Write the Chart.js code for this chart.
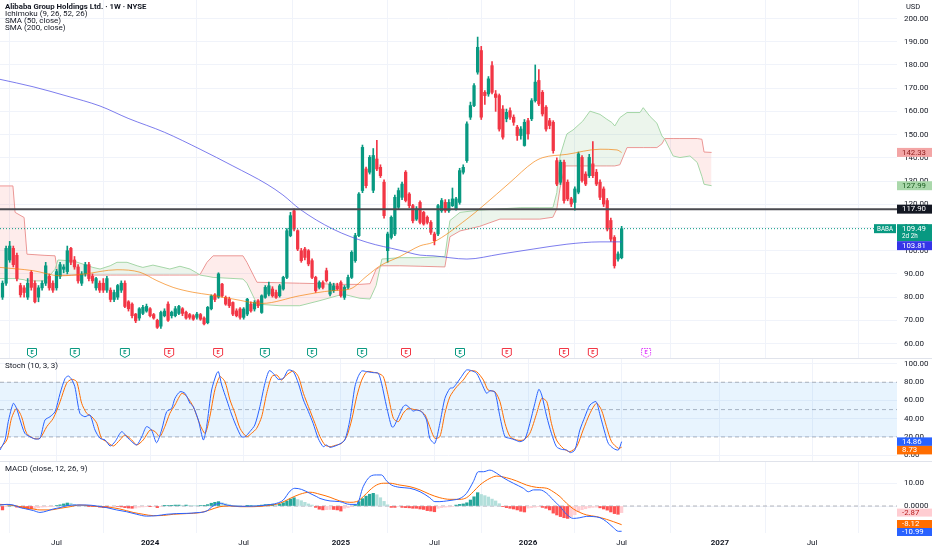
<!DOCTYPE html>
<html><head><meta charset="utf-8">
<script src="https://cdn.jsdelivr.net/npm/chart.js@4.4.1/dist/chart.umd.min.js"></script>
<style>
html,body{margin:0;padding:0;background:#fff;width:932px;height:550px;overflow:hidden;font-family:Roboto,"Noto Sans",sans-serif;}
canvas{position:absolute;left:0;z-index:1;}
.sep{position:absolute;left:0;width:932px;height:1px;background:#e0e3eb;z-index:2;}
.t{position:absolute;left:5px;font-size:8px;color:#131722;white-space:nowrap;line-height:8px;z-index:5;}
</style></head><body>
<canvas id="c1" width="932" height="358" style="top:0px"></canvas>
<canvas id="c2" width="932" height="104" style="top:358px"></canvas>
<canvas id="c3" width="932" height="88" style="top:462px"></canvas>
<div class="sep" style="top:358px"></div>
<div class="sep" style="top:461px"></div>
<div class="t" style="top:2.5px;font-weight:bold;font-size:7.8px">Alibaba Group Holdings Ltd. · 1W · NYSE</div>
<div class="t" style="top:10px">Ichimoku (9, 26, 52, 26)</div>
<div class="t" style="top:17px">SMA (50, close)</div>
<div class="t" style="top:24px">SMA (200, close)</div>
<div class="t" style="top:362px">Stoch (10, 3, 3)</div>
<div class="t" style="top:465px">MACD (close, 12, 26, 9)</div>
<div class="t" style="top:3px;left:906px;font-size:7.5px">USD</div>
<script>
const FONT='Roboto, "Noto Sans", sans-serif';
// ---- time axis (week index of bar) ----
const timeTickIdx=[15,41,67,94,120,146,172,199.3,224.9];
const timeLabels=['Jul','2024','Jul','2025','Jul','2026','Jul','2027','Jul'];
const priceTicks=[60,70,80,90,100,110,120,130,140,150,160,170,180,190,200];
const stochTicks=[0,20,40,60,80,100];
const macdTicks=[0,10];
// ---- weekly candles ----
const open=[80,86,96,101,98,85,84,80,90.7,86,80,84,86,89,86,84,89,92,91,101,96,93,86,90,94,89,84,86,86,83,83,79,80,83,86,78,77,72.7,71,73,74,75,72.5,70,67.5,72,77,72,72,73,75,73.5,72.5,72,71.3,72.5,71,69,75,81,80,
85.6,79.9,79.1,77.7,74.1,74.9,71.3,72.7,77.0,74.9,78.4,73.4,79.9,81.3,83.5,82.0,80.6,83.5,88.5,106.5,117.2,108.6,100,100.7,100,95.7,88.5,84.2,86.3,91.4,81.3,82.8,84.9,86.3,79.9,84.2,88.5,95.7,106.5,125.9,135.2,133.8,126,139.5,135.9,129.5,100,105.7,107.2,118.7,123.0,133.8,124.4,119.4,113.6,
120.8,116.5,114.4,112.2,107.2,107.2,117.2,120.8,117.2,119.4,118,120.8,133.8,138.8,157.5,162.5,176.9,186.2,168.2,167.5,179.7,167.5,166.8,161,156.8,160.3,157.5,153.2,149.6,145.3,156,156.8,164.6,173.3,168.2,161.8,156,155.3,138.8,129.5,138.1,129.5,122.3,120.8,125.2,140.2,133,132.3,137.4,133.8,129.5,126.6,121.6,113,105.7,96.4,97];
const close=[86,101,102,94,88,81,82,86,84.2,78,84,86,93.5,84,83,91,94,93,100,95,93,87,90,94,88,87,88,83,83,88,79,82,85,86,76,75,72,69.8,75,75.6,76,72,71,67,73.4,74,70,73.5,75,76,73,71,71.3,70.5,72.7,70.5,68.5,75.6,80.5,79,90,
80.6,77.0,76.3,72.7,72.0,71.3,74.9,79.1,74.1,77.7,76.3,80.6,84.2,84.9,80.6,79.9,84.9,88.5,108.6,115.1,109.3,100.7,95.7,97.1,94.3,88.5,82.8,86.3,84.2,87.1,85.6,84.9,83.5,80.6,84.2,88.5,99.3,106.5,124.4,144.5,128.0,140.2,141,135.2,132.3,115.1,107.2,114.4,123.0,125.9,128.7,121.6,119.4,112.9,118,
112.2,111.5,112.2,107.9,104.3,119.4,121.6,117.2,120.8,122.3,122.3,134.5,135.9,154.6,162.5,171.1,187.6,157.5,166.8,174,168.2,166,152.4,148.9,159.6,157.5,155.3,149.6,152.4,155.3,150.3,164.6,172.6,163.2,158.9,152.4,153.9,143.1,128.7,138.1,121.6,122.3,120.1,126.6,141.7,130.2,128.7,140.2,132.3,128.7,123,120.1,109.3,105,93.5,98.6,109.49];
const high=[87,102,104,102,99,86,85,88,91.5,87,85,87,95,90,87,92,95,94,102,101.5,97.5,94,91,95,95,90,88.5,87,88,89,84,83,85.5,87,87,78.5,77.5,73,75.5,76.5,77,75.5,73,70.5,74,75,78,74,76,76.5,75.5,74,73,72.5,73.5,73,71.5,76,81,81.5,90.5,
86,80.5,80,78,75,75.5,75.5,79.5,78,78.5,79,81,85,86.5,84.5,83,85.5,89,109.5,116.5,118,109,101,101.5,100.5,96.5,89,87,87,92.5,86.5,86,86,87,85,89.5,100,107.5,125,145.5,136,141,144,147.5,137,130.5,108,115,124,127,129.5,134.5,125,120,119,
121.5,117,115,113,108,120,122.5,122,122,127,123,135.5,137,155.5,164,172,192,188,169,175,181.5,169,167.5,162.5,161,161.5,158.5,154,153.5,156.5,157,165.5,180,178,169,162.5,157,156,140,139,139,130.5,123,127.5,142.5,141,134,141.5,147,135,130.5,127.5,122.5,114,106.5,99.5,110.5];
const low=[79,85,95,93,87,80,80,79,83,77.5,78,83,85,83,82,83,88,90.5,90,94,92,86,85,89,87,86,83,82,82,82,78,78,79,82,75.5,74,71,69,70,72.5,73.5,71.5,70.5,66.5,66.5,71.5,69.5,71,71.5,72.5,72,70.5,70.5,70,70.5,70,68,68.5,74.5,78,79.5,
80,76.5,75.5,72,71.5,70.5,70.5,72,73.5,74,75.5,73,79.5,80.5,80,79.5,80,83,88,106,108.5,100,95,96,93.5,88,82,83.5,83.5,86.5,80.5,82,83,80,79,83.5,88,95,106,125,127,133,125,134.5,131.5,114,95,105,106.5,118,122,121,118.5,112,113,
111.5,111,111.5,107,102.5,106.5,116.5,116.5,116.5,119,117.5,120,133,138,156.5,162,176,156.5,163,166.5,167.5,160,151.5,148,155.5,156.5,154,147.5,148,145,148,156,164,162.5,158,151.5,152.5,142,128,128.5,120.5,121.5,119,117.5,124.5,129.5,128,131.5,131.5,128,122,119,108.5,104,92.5,95.5,96.5];
// ---- SMA lines ----
const sma50Idx=[-0.7,8.5,16,22.4,31.8,38.2,42.9,47.4,52.9,57.6,64,72.1,82.6,91.8,96.5,101.3,104.9,110.4,116,119.6,129,133.5,141,147.4,150.1,156.8,166,170.7,172];
const sma50Val=[92.8,91.4,89.2,89.9,91.8,90.7,87.1,84.2,82.1,81.0,79.2,77.3,80.6,82.8,83.5,89.2,93.5,97.5,102.1,103.6,113.6,119.3,129.4,138,140.1,141.5,143.7,143.4,142.3];
const sma200Idx=[-0.7,8.5,17.9,27.1,34.9,45,54.9,64,73.5,77.9,82.6,91.8,101.3,110.4,116,119.6,129,138.2,147.4,156.8,166,172];
const sma200Val=[173.8,170.6,166.6,162.3,157,151,143.7,136.5,128.6,124,117.9,109.3,103.6,100.2,98.1,97.8,96.4,98.5,100.7,102.8,103.8,103.81];
// ---- Ichimoku cloud (leading spans, sampled) ----
const cloudIdx=[-0.7,2.9,3.5,6,6.8,11.8,14.6,15.4,19.6,22.4,25.1,27.1,29.9,31.8,34.6,37.4,39,41.8,44.6,46.5,49.3,52.1,54,54.9,56.8,58.5,66.8,67.9,70.7,77.1,82.6,88.2,94.6,99.3,102.1,103.8,105.4,110.4,116,122.9,124.3,127.1,132.6,138.2,143.8,149.3,152.9,154,154.9,156.3,156.8,158.5,161.2,163.2,166,167.9,169.3,170.1,171.5,173.5,177.1,178,179.9,181.8,183.2,184,186.3,188.2,191,193,194.3,194.9,197];
const spanA=[88,88,88,87.5,87,87,92,96,95.6,94.2,92.8,92.1,93.5,95,95,93.5,92.8,93.8,92.8,92.1,93.3,92.1,90.4,89.5,89,88.5,87.8,86,77,76.3,76.3,78.5,81.3,79.5,79.2,85,96.4,97,97,97.5,113,116.5,117.5,118,118.5,118.5,118.5,125,140.8,148,150.3,152,155.8,160.1,158.7,156.6,155.2,153.7,157.3,159.5,159.5,161.6,157.8,154.9,149.4,148,140.8,140.1,140.8,138,132,128.6,127.99];
const spanB=[127.9,127.9,116.5,114.3,98.5,98,97.8,89.5,89.5,89.5,89.5,89.5,89.5,89.5,89.5,89.5,89.5,89.5,89.5,89.5,89.5,89.5,89.5,89.8,95,97.8,97.8,95,86.4,86.2,86,85.8,85.5,85.5,85.8,92,93.5,93.5,93.3,93,106,108.5,110.5,113.6,113.6,113.6,114.4,118,127,136.5,136.5,136.5,136.5,136.5,136.5,136.5,136.5,136.5,137,144.4,144.4,144.4,144.4,144.4,146,148.3,148.3,148.3,148.3,148.3,148,142.5,142.33];
// ---- levels ----
const hLevel=117.90, lastPrice=109.49;
// ---- Stochastic ----
const stochKIdx=[-0.7,0.7,1.6,3.0,3.9,4.9,6.2,7.6,9.0,10.4,11.8,13.2,14.6,16.0,17.4,18.3,19.2,20.1,21.5,22.9,24.3,25.7,27.1,28.5,29.9,31.25,33.1,34.5,35.9,37.3,38.7,40.0,41.4,42.8,44.2,45.6,47.0,47.9,49.3,50.7,52.1,53.0,54.4,55.8,56.7,58.1,59.5,60.0,60.9,62.3,63.7,65.0,66.4,67.4,68.7,70.1,71.5,72.9,74.1,75.2,76.6,78.0,79.4,80.8,82.2,83.6,85.0,86.3,87.7,89.1,90.0,91.0,92.4,93.7,95.1,96.5,97.9,98.8,99.8,101.2,103.0,104.4,105.3,106.7,108.1,108.7,110.0,111.3,112.1,113.2,114.1,115.0,116.4,117.8,118.7,120.1,121.5,122.9,124.3,125.2,126.2,127.5,128.9,130.3,131.7,133.1,134.5,135.4,136.8,138.2,139.6,141.0,142.4,143.7,145.1,146.5,147.9,149.0,149.8,151.2,152.5,153.9,155.3,156.7,157.8,159.0,160.4,161.8,163.2,164.9,166.0,167.4,168.3,169.7,171.1,172];
const stochK=[5.7,16.7,36.8,56.9,51.4,38.6,24,20.3,17.8,18.5,38.6,42.2,47.7,67.8,84.3,86.8,83.2,75.1,45.9,42.2,44.1,27.6,18.5,16.7,10.1,14.8,25.8,20.3,14.8,11.2,20.3,31.3,27.6,13.7,27.6,47.7,51.4,62.3,69.6,67.8,56.9,53.2,38.6,16.7,31.3,71.5,89.8,91.6,77,60.5,44.1,31.3,20.3,20.3,25.8,33.1,53.2,78.8,92.7,89.8,83.2,84.3,93.4,91.6,78.8,60.5,47.7,34.9,18.5,9.3,11.2,8.6,10.1,12.3,16.7,38.6,75.1,86.1,92.3,91.6,90.5,89.8,78.8,53.2,31.3,31.3,42.2,53.2,55,51.4,48.4,49.5,47.7,38.6,18.5,13,34.9,62.3,73.3,74,78.8,86.1,93.4,92.7,89.8,78.8,67.8,70.7,68.9,42.2,20.3,18.5,16.7,14.8,17.4,34.9,56.9,72.2,66,42.2,24,9.3,6.4,5.7,2.8,5.7,27.6,42.2,55,58.7,44.1,24,13,7.5,5.7,14.86];
const stochDIdx=[-0.7,1.2,2.5,3.9,5.3,6.7,8.6,10.4,12.3,14.1,16.0,17.8,19.2,20.6,22.0,23.4,24.8,26.2,27.5,28.9,30.8,32.6,34.0,35.9,37.3,39.1,41.0,42.4,43.7,45.1,46.5,47.9,49.8,51.2,53.0,54.9,56.3,57.6,59.0,60.4,61.8,63.2,64.6,66.0,67.8,69.2,70.6,72.0,73.4,74.8,76.2,77.5,78.9,80.8,82.2,83.6,85.0,86.8,88.2,89.6,91.0,92.8,94.2,95.6,97.0,98.4,99.8,101.2,103.0,104.4,105.8,107.2,108.6,110.0,111.3,112.7,114.1,116.0,117.4,118.7,120.1,121.5,122.9,124.3,126.2,128.0,129.9,131.7,133.6,134.9,136.8,138.2,139.6,141.0,142.8,144.7,146.5,148.4,149.8,151.2,152.5,153.9,155.8,157.6,159.5,161.3,163.2,165.0,166.4,167.8,169.2,171.1,172];
const stochD=[7.5,16.7,40.4,51.4,42.2,24,18.5,18.5,31.3,40.4,58.7,78.8,83.2,80.6,56.9,45.9,42.2,34.9,18.5,14.8,10.1,16.7,22.1,16.7,11.2,16.7,27.6,25.8,20.3,31.3,45.9,55,67.8,64.2,53.2,33.1,24,42.2,71.5,86.1,80.6,60.5,45.9,29.4,20.3,24,29.4,42.2,67.8,86.1,87.9,82.4,87.9,92.3,86.1,67.8,53.2,34.9,20.3,11.2,9.3,11.2,13,20.3,38.6,64.2,82.4,91.6,90.9,89.8,86.1,64.2,40.4,36.8,45.9,51.4,50.3,48.8,44.1,31.3,18.5,20.3,45.9,64.2,75.1,82.4,92.3,91.6,82.4,71.5,69.6,58.7,34.9,20.3,16.7,16.7,24,45.9,62.3,58.7,34.9,16.7,7.5,3.9,9.3,27.6,45.9,56.9,49.5,31.3,14.8,7.5,8.73];
// ---- MACD ----
const macdIdx=[-0.7,1.2,3.0,4.9,6.7,8.6,10.4,12.3,14.1,16.0,17.8,20.6,23.4,26.2,28.9,31.7,34.5,37.3,40.0,42.8,45.6,48.4,51.2,54.0,56.7,58.6,60.4,62.3,64.1,67.8,70.6,73.4,76.2,78.0,79.9,81.2,83.1,85.4,87.3,88.2,91.0,93.7,96.5,98.4,100.2,102.1,103.9,105.3,106.7,108.1,110.4,113.2,116.0,118.7,120.1,121.5,123.4,125.2,127.1,128.9,130.8,132.2,133.6,135.4,137.3,139.1,141.9,144.7,146.1,147.5,149.3,151.2,153.0,154.9,156.7,158.6,160.4,162.3,164.1,166.0,167.8,169.7,171.1,172];
const macdVal=[0.43,0.7,0.43,-0.7,-1.3,-2.0,-2.8,-2.2,-1.3,-0.7,0.14,0.43,0.43,0,-0.7,-1.7,-2.5,-3.6,-4.4,-4.2,-3.6,-3.3,-3.2,-2.9,-2.2,0.14,1.2,0.43,0,-0.14,0,0.43,1.2,2.6,6.5,7.7,7.2,5.5,4.05,3.3,2.2,1.9,0.7,0.7,8.4,12.8,13.5,13.5,10.9,9.1,8.1,7.7,6.2,3.6,1.9,1.9,2.2,2.6,3.3,5.5,10.6,14.9,14.9,15.6,14.2,12.3,9.9,7.7,6.2,7.0,7.0,5.5,2.6,-0.3,-3.6,-5.4,-5.1,-4.5,-4.6,-5.1,-6.8,-9.4,-11.0,-10.99];
const signalIdx=[-0.7,2.1,4.9,7.6,10.4,13.2,16.0,18.8,21.5,24.3,27.1,29.9,32.6,36.3,39.1,41.9,44.7,47.5,51.2,54.9,57.6,60.4,63.2,66.0,69.7,73.4,77.1,79.9,82.6,85.4,88.2,91.0,93.7,96.5,98.4,100.2,102.1,103.9,105.8,107.6,110.4,113.2,116.0,118.7,121.5,124.3,127.1,128.9,130.8,132.6,135.4,137.3,140.0,142.8,145.6,148.4,151.2,153.0,154.9,156.7,158.6,160.4,162.3,165.0,167.8,169.7,172];
const signalVal=[0.7,0.43,-0.3,-1.0,-1.7,-1.7,-1.0,-0.3,0.43,0.14,-0.3,-0.6,-1.3,-2.8,-3.6,-4.2,-4.1,-3.6,-3.3,-2.9,-1.7,-0.3,0,-0.3,-0.3,0.14,1.2,3.3,5.1,6.0,5.1,3.8,2.2,1.6,1.9,4.05,7.0,9.1,9.9,9.9,9.1,8.4,7.0,5.1,3.6,2.9,2.9,3.6,6.2,9.1,12.0,13.0,12.3,10.9,9.1,8.1,7.7,6.2,4.05,1.2,-1.3,-2.8,-3.9,-4.6,-5.8,-6.8,-8.12];
const macdHist=[-1.7,-0.3,0,0.1,-0.5,-0.7,-1.0,-1.3,-1.3,-1.2,-0.8,-0.5,-0.4,-0.3,-0.2,0.2,0.5,0.9,1.3,1.2,0.7,0.4,0.2,0.1,-0.1,-0.2,-0.3,-0.5,-0.7,-0.7,-0.4,-0.2,-0.2,-0.4,-0.7,-0.9,-1.0,-0.9,-0.5,-0.4,-0.3,-0.3,-0.2,-0.7,-0.2,0.1,0.2,0.3,0.4,0.4,0.3,0.4,0.3,0.2,0.1,0.2,0.3,0.6,1.2,1.6,1.9,1.4,1.0,0.6,0.3,0.1,0.0,-0.1,0.1,0.2,0.1,0.2,0.4,0.6,0.7,0.8,0.6,0.8,1.4,2.2,3.0,3.6,2.8,2.3,1.6,0.9,0.4,-0.6,-1.4,-1.7,-1.6,-1.5,-1.5,-1.7,-2.2,-1.0,-0.7,-0.3,0.5,1.9,3.2,4.3,5.1,5.5,4.9,3.6,2.0,0.5,-0.6,-0.6,-0.2,-0.6,-0.7,-0.8,-1.0,-1.0,-1.3,-1.5,-2.0,-2.2,-2.5,-1.0,-0.7,-0.5,-0.4,-0.2,0.4,0.7,0.9,1.4,2.6,4.0,5.8,5.0,4.5,3.9,3.0,2.2,1.0,-0.3,-0.7,-1.0,-1.3,-1.7,-2.3,-2.6,-0.9,-0.7,-0.5,-0.3,-0.6,-1.0,-1.7,-3.1,-3.9,-4.6,-5.1,-5.4,-4.6,-3.8,-2.5,-1.6,-1.2,-0.8,-0.6,-0.5,-0.8,-1.3,-1.8,-2.6,-3.3,-3.6,-2.87];
// ---- earnings markers ----
const earnIdx=[8.2,20.1,34,46.3,59.9,72.9,86,99.9,112.1,127.1,140.1,156,164,178.8];
const earnKind=['g','g','g','r','r','g','g','g','r','g','r','r','r','f'];

// ================= rendering =================
const UP='#089981', DOWN='#F23645', GRID='#f0f3fa', TXT='#131722';
const X_MIN=-0.694, X_MAX=248.5;
const P_MAX=200+18.5/2.322, P_MIN=200-339.5/2.322;
const S_MAX=(455.2-358)/0.912, S_MIN=(455.2-462)/0.912;
const M_MAX=(506-462)/2.3, M_MIN=(506-533)/2.3;

function pts(xs,ys){return xs.map((x,k)=>({x:x,y:ys[k]}));}
function xAxis(show){
  return {type:'linear',min:X_MIN,max:X_MAX,offset:false,
    afterBuildTicks:s=>{s.ticks=timeTickIdx.map(v=>({value:v}));},
    afterFit:s=>{s.height=show?17:0;s.paddingLeft=0;s.paddingRight=0;},
    grid:{color:GRID,drawTicks:false},border:{display:false},
    ticks:{display:show,autoSkip:false,maxRotation:0,padding:5,color:TXT,
      callback:(v,i)=>timeLabels[i],
      font:c=>({family:FONT,size:8,weight:/^\d{4}$/.test(timeLabels[c.index])?'bold':'normal'})}};
}
function yAxis(min,max,ticks,fmt){
  return {position:'right',min:min,max:max,
    afterBuildTicks:s=>{s.ticks=ticks.map(v=>({value:v}));},
    afterFit:s=>{s.width=35;s.paddingTop=0;s.paddingBottom=0;},
    grid:{color:GRID,drawTicks:false},border:{display:false},
    ticks:{padding:7,color:TXT,font:{family:FONT,size:8},callback:fmt}};
}
const baseOpts={responsive:false,animation:false,events:[],
  layout:{padding:0,autoPadding:false},
  plugins:{legend:{display:false},tooltip:{enabled:false}}};

function drawTags(ctx,tags,x,w,limit){
  tags.sort((a,b)=>a.y-b.y);
  for(let i=1;i<tags.length;i++){const need=tags[i-1].y+tags[i-1].h/2+tags[i].h/2; if(tags[i].y<need) tags[i].y=need;}
  for(let i=tags.length-1;i>=0;i--){const lim=(i===tags.length-1)?limit:tags[i+1].y-tags[i+1].h/2; if(tags[i].y+tags[i].h/2>lim) tags[i].y=lim-tags[i].h/2;}
  tags.forEach(t=>{
    const top=t.y-(t.top!==undefined?t.top:t.h/2);
    ctx.fillStyle=t.bg; ctx.fillRect(x,top,w,t.h);
    ctx.fillStyle=t.fg; ctx.textAlign='left'; ctx.textBaseline='middle';
    ctx.font='7.8px '+FONT; ctx.fillText(t.text,x+5,top+(t.sub?4.6:t.h/2+0.3));
    if(t.sub){ctx.font='6.3px '+FONT; ctx.fillText(t.sub,x+5,top+12);}
  });
}

// ---------- price pane ----------
const wick=[],body=[],ccol=[];
for(let i=0;i<close.length;i++){wick.push({x:i,y:[low[i],high[i]]});body.push({x:i,y:[open[i],close[i]]});ccol.push(close[i]>=open[i]?UP:DOWN);}
const pricePlugin={id:'pp',afterDraw(ch){
  const ctx=ch.ctx, ys=ch.scales.y, xs=ch.scales.x;
  ctx.save();
  earnIdx.forEach((ix,k)=>{
    const cx=xs.getPixelForValue(ix), cy=353;
    const col=earnKind[k]==='g'?UP:(earnKind[k]==='r'?DOWN:'#e040fb');
    ctx.beginPath();
    ctx.moveTo(cx-4.5,cy-4.5);ctx.lineTo(cx+4.5,cy-4.5);ctx.lineTo(cx+4.5,cy+2);ctx.lineTo(cx,cy+4.5);ctx.lineTo(cx-4.5,cy+2);ctx.closePath();
    ctx.fillStyle='#fff';ctx.fill();ctx.lineWidth=1;ctx.strokeStyle=col;
    if(earnKind[k]==='f')ctx.setLineDash([1.5,1]);ctx.stroke();ctx.setLineDash([]);
    ctx.fillStyle=col;ctx.font='bold 5.5px '+FONT;ctx.textAlign='center';ctx.textBaseline='middle';ctx.fillText('E',cx,cy-0.5);
  });
  const yl=ys.getPixelForValue(lastPrice);
  ctx.fillStyle=UP;ctx.fillRect(874,yl-4.5,22,9);
  ctx.fillStyle='#fff';ctx.font='6.3px '+FONT;ctx.textAlign='center';ctx.textBaseline='middle';ctx.fillText('BABA',885,yl+0.3);
  drawTags(ctx,[
    {y:ys.getPixelForValue(spanB[spanB.length-1]),h:9,bg:'#f3a5a5',fg:'#8e1c1c',text:spanB[spanB.length-1].toFixed(2)},
    {y:ys.getPixelForValue(spanA[spanA.length-1]),h:9,bg:'#aad8ab',fg:'#1b5e20',text:spanA[spanA.length-1].toFixed(2)},
    {y:ys.getPixelForValue(hLevel),h:9,bg:'#131722',fg:'#fff',text:hLevel.toFixed(2)},
    {y:yl+4,top:8.5,h:17,bg:UP,fg:'#fff',text:lastPrice.toFixed(2),sub:'2d 2h'},
    {y:ys.getPixelForValue(sma200Val[sma200Val.length-1]),h:9,bg:'#3535e8',fg:'#fff',text:sma200Val[sma200Val.length-1].toFixed(2)}
  ],897,35,358);
  ctx.restore();
}};
new Chart(document.getElementById('c1'),{type:'bar',
  data:{datasets:[
    {type:'line',data:pts(cloudIdx,spanB),borderColor:'#EF9A9A',borderWidth:1,pointRadius:0,order:9},
    {type:'line',data:pts(cloudIdx,spanA),borderColor:'#A5D6A7',borderWidth:1,pointRadius:0,order:8,
      fill:{target:0,above:'rgba(67,160,71,0.10)',below:'rgba(244,67,54,0.10)'}},
    {type:'bar',data:wick,backgroundColor:ccol,barThickness:1,grouped:false,order:5},
    {type:'bar',data:body,backgroundColor:ccol,barThickness:2.6,grouped:false,order:4},
    {type:'line',data:pts(sma50Idx,sma50Val),borderColor:'rgba(245,124,0,0.65)',borderWidth:1,pointRadius:0,cubicInterpolationMode:'monotone',order:2},
    {type:'line',data:pts(sma200Idx,sma200Val),borderColor:'rgba(70,70,230,0.7)',borderWidth:1,pointRadius:0,cubicInterpolationMode:'monotone',order:2},
    {type:'line',data:[{x:X_MIN,y:hLevel},{x:X_MAX,y:hLevel}],borderColor:'#4a4a4f',borderWidth:2,pointRadius:0,order:1},
    {type:'line',data:[{x:X_MIN,y:lastPrice},{x:242.2,y:lastPrice}],borderColor:UP,borderWidth:1,borderDash:[1,2],pointRadius:0,order:1}
  ]},
  options:Object.assign({},baseOpts,{scales:{x:xAxis(false),y:yAxis(P_MIN,P_MAX,priceTicks,v=>v.toFixed(2))}}),
  plugins:[pricePlugin]});

// ---------- stochastic pane ----------
const stochPlugin={id:'sp',afterDraw(ch){
  const ctx=ch.ctx, ys=ch.scales.y; ctx.save();
  drawTags(ctx,[
    {y:ys.getPixelForValue(stochK[stochK.length-1]),h:8.5,bg:'#2962FF',fg:'#fff',text:stochK[stochK.length-1].toFixed(2)},
    {y:ys.getPixelForValue(stochD[stochD.length-1]),h:8.5,bg:'#FF6D00',fg:'#fff',text:stochD[stochD.length-1].toFixed(2)}
  ],897,35,104);
  ctx.restore();
}};
const dashCol='rgba(120,123,134,0.55)';
new Chart(document.getElementById('c2'),{type:'line',
  data:{datasets:[
    {data:[{x:X_MIN,y:80},{x:X_MAX,y:80}],borderColor:dashCol,borderWidth:1,borderDash:[4,3],pointRadius:0,fill:{target:2},backgroundColor:'rgba(33,150,243,0.1)',order:9},
    {data:[{x:X_MIN,y:50},{x:X_MAX,y:50}],borderColor:dashCol,borderWidth:1,borderDash:[4,3],pointRadius:0,order:9},
    {data:[{x:X_MIN,y:20},{x:X_MAX,y:20}],borderColor:dashCol,borderWidth:1,borderDash:[4,3],pointRadius:0,order:9},
    {data:pts(stochDIdx,stochD),borderColor:'#FF6D00',borderWidth:1,pointRadius:0,tension:0.25,order:2},
    {data:pts(stochKIdx,stochK),borderColor:'#2962FF',borderWidth:1,pointRadius:0,tension:0.25,order:1}
  ]},
  options:Object.assign({},baseOpts,{scales:{x:xAxis(false),y:yAxis(S_MIN,S_MAX,stochTicks,v=>v.toFixed(2))}}),
  plugins:[stochPlugin]});

// ---------- MACD pane ----------
const histCol=macdHist.map((h,i)=>{const p=i>0?macdHist[i-1]:h;
  if(h>=0) return h>=p?'#26A69A':'#B2DFDB'; return h>p?'#FFCDD2':'#FF5252';});
const macdPlugin={id:'mp',afterDraw(ch){
  const ctx=ch.ctx, ys=ch.scales.y; ctx.save();
  const lh=macdHist[macdHist.length-1];
  drawTags(ctx,[
    {y:ys.getPixelForValue(lh),h:8,bg:'#FFCDD2',fg:'#b71c1c',text:lh.toFixed(2)},
    {y:ys.getPixelForValue(signalVal[signalVal.length-1]),h:8,bg:'#FF6D00',fg:'#fff',text:signalVal[signalVal.length-1].toFixed(2)},
    {y:ys.getPixelForValue(macdVal[macdVal.length-1]),h:8,bg:'#2962FF',fg:'#fff',text:macdVal[macdVal.length-1].toFixed(2)}
  ],897,35,74);
  ctx.restore();
}};
new Chart(document.getElementById('c3'),{type:'bar',
  data:{datasets:[
    {type:'line',data:[{x:X_MIN,y:0},{x:X_MAX,y:0}],borderColor:dashCol,borderWidth:1,borderDash:[4,3],pointRadius:0,order:9},
    {type:'bar',data:macdHist.map((h,i)=>({x:i,y:h})),backgroundColor:histCol,barThickness:2.6,grouped:false,order:5},
    {type:'line',data:pts(signalIdx,signalVal),borderColor:'#FF6D00',borderWidth:1,pointRadius:0,cubicInterpolationMode:'monotone',order:2},
    {type:'line',data:pts(macdIdx,macdVal),borderColor:'#2962FF',borderWidth:1,pointRadius:0,cubicInterpolationMode:'monotone',order:1}
  ]},
  options:Object.assign({},baseOpts,{scales:{x:xAxis(true),y:yAxis(M_MIN,M_MAX,macdTicks,v=>v===0?'0.0000':v.toFixed(2))}}),
  plugins:[macdPlugin]});
</script>
</body></html>
